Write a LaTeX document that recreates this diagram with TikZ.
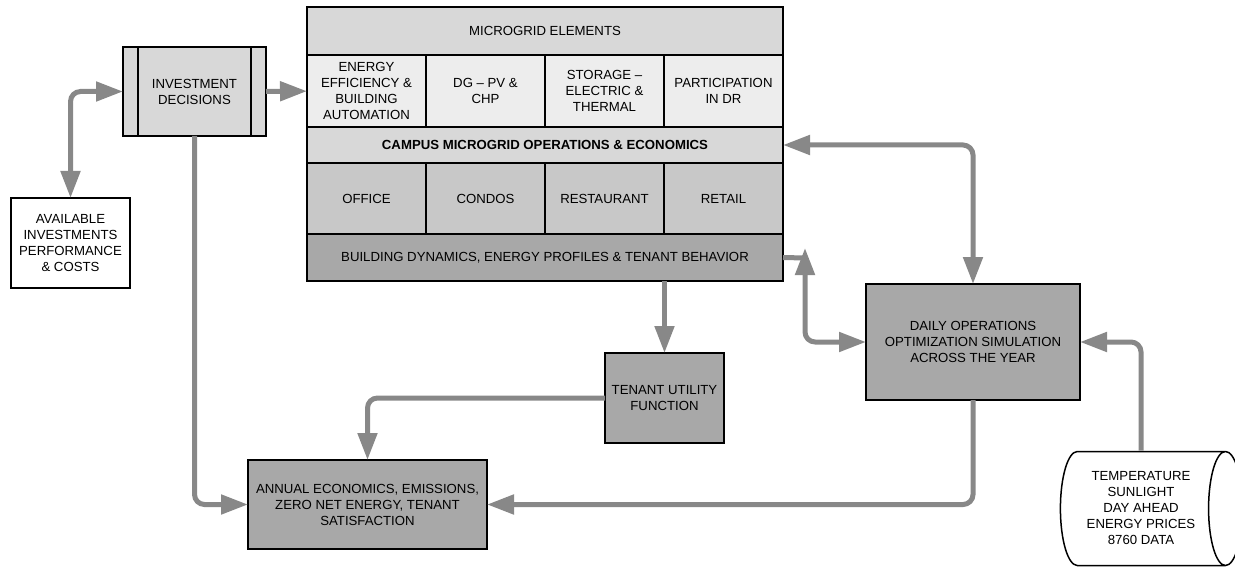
\documentclass[tikz,border=0pt]{standalone}
\usepackage{fontspec}
\setmainfont{Liberation Sans}
\usetikzlibrary{shapes.geometric,arrows.meta}
\usetikzlibrary{positioning}
\definecolor{pale}{HTML}{EDEDED}
\definecolor{light}{HTML}{D8D8D8}
\definecolor{mid}{HTML}{C8C8C8}
\definecolor{dark}{HTML}{A8A8A8}
\definecolor{arrowgray}{HTML}{888888}
\tikzstyle{frame} = [
        rectangle, draw, line width=1.5pt,
        outer sep=0pt, inner sep=2pt, align=center,
        font=\fontsize{13.2}{16}\selectfont
    ]
\tikzstyle{cell} = [frame, minimum width=119pt, minimum height=72pt]
\tikzstyle{band} = [frame, minimum width=476pt]
\tikzstyle{line} = [draw=arrowgray, line width=5pt, rounded corners=10pt,
        -{Triangle[width=19pt,length=27pt]}]
\tikzstyle{biline} = [line, {Triangle[width=19pt,length=27pt]}-{Triangle[width=19pt,length=27pt]}]

\begin{document}
\begin{tikzpicture}[x=1pt, y=-1pt]
    \useasboundingbox (0,0) rectangle (1235,567);

    % microgrid block
    \node [band, fill=light, minimum height=48pt] (mge) at (545,31) {MICROGRID ELEMENTS};
    \node [cell, fill=pale, anchor=north west] (eff) at (mge.south west)
        {ENERGY\\EFFICIENCY \&\\BUILDING\\AUTOMATION};
    \node [cell, fill=pale, right=0pt of eff] (dg) {DG -- PV \&\\CHP};
    \node [cell, fill=pale, right=0pt of dg] (sto) {STORAGE --\\ELECTRIC \&\\THERMAL};
    \node [cell, fill=pale, right=0pt of sto] (dr) {PARTICIPATION\\IN DR};
    \node [band, fill=light, minimum height=36pt, anchor=north west] (campus) at (eff.south west)
        {\bfseries CAMPUS MICROGRID OPERATIONS \& ECONOMICS};
    \node [cell, fill=mid, minimum height=71pt, anchor=north west] (office) at (campus.south west) {OFFICE};
    \node [cell, fill=mid, minimum height=71pt, right=0pt of office] (condos) {CONDOS};
    \node [cell, fill=mid, minimum height=71pt, right=0pt of condos] (rest) {RESTAURANT};
    \node [cell, fill=mid, minimum height=71pt, right=0pt of rest] (retail) {RETAIL};
    \node [band, fill=dark, minimum height=47pt, anchor=north west] (dyn) at (office.south west)
        {BUILDING DYNAMICS, ENERGY PROFILES \& TENANT BEHAVIOR};

    % other blocks
    \node [frame, fill=light, minimum width=143pt, minimum height=89pt,
        path picture={
            \draw ([xshift=15pt]path picture bounding box.north west) -- ([xshift=15pt]path picture bounding box.south west);
            \draw ([xshift=-15pt]path picture bounding box.north east) -- ([xshift=-15pt]path picture bounding box.south east);
        }] (inv) at (194.5,91.5) {INVESTMENT\\DECISIONS};
    \node [frame, fill=white, minimum width=119pt, minimum height=90pt] (avail) at (70.5,243)
        {AVAILABLE\\INVESTMENTS\\PERFORMANCE\\\& COSTS};
    \node [frame, fill=dark, minimum width=119pt, minimum height=90pt] (tenant) at (664.5,398)
        {TENANT UTILITY\\FUNCTION};
    \node [frame, fill=dark, minimum width=214pt, minimum height=116pt] (daily) at (973,342)
        {DAILY OPERATIONS\\OPTIMIZATION SIMULATION\\ACROSS THE YEAR};
    \node [frame, fill=dark, minimum width=239pt, minimum height=89pt] (annual) at (367.5,504.5)
        {ANNUAL ECONOMICS, EMISSIONS,\\ZERO NET ENERGY, TENANT\\SATISFACTION};
    \node [cylinder, draw, line width=1.5pt, fill=white, aspect=0.45,
        minimum width=114pt, minimum height=182pt, align=center, inner sep=1pt,
        font=\fontsize{13.2}{16}\selectfont] (data) at (1141,508.5)
        {TEMPERATURE\\SUNLIGHT\\DAY AHEAD\\ENERGY PRICES\\8760 DATA};

    \coordinate (kink) at (805,258);

    \path [biline] (avail.north) |- (inv.west);
    \path [line] (inv) -- (eff);
    \path [line] (inv.south) |- (annual.west);
    \path [line] (tenant.west) -| (annual.north);
    \path [line] (tenant.north |- dyn.south) -- (tenant.north);
    \path [biline] (daily.north) |- (campus.east);
    \path [line] (daily.south) |- (annual.east);
    \path [line] (data.north) |- (daily.east);
    \path [draw=arrowgray, line width=5pt] (dyn.east) -- (kink);
    \path [biline] ([yshift=10pt]kink) |- (daily.west);
\end{tikzpicture}
\end{document}
